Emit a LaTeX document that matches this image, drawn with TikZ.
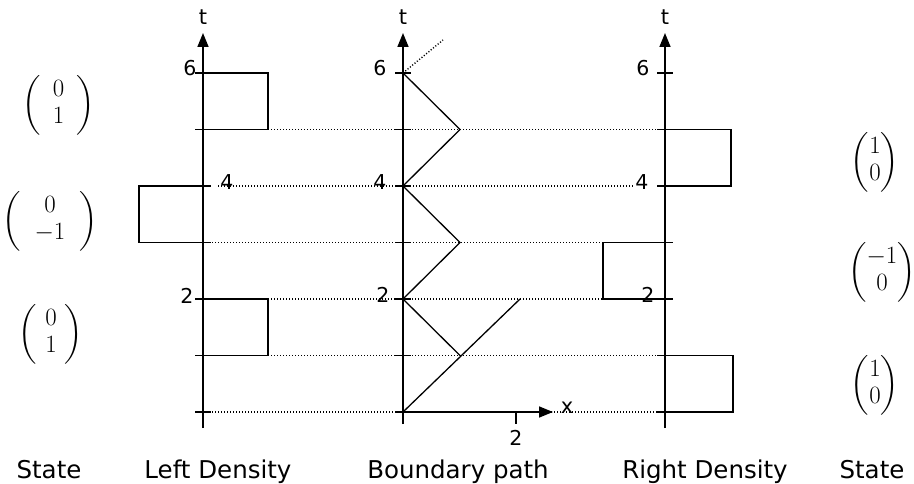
\documentclass[tikz,border=0pt]{standalone}
\usepackage{amsmath}
\usepackage{fontspec}
\setsansfont{DejaVu Sans}
\usetikzlibrary{arrows.meta}
\begin{document}
\begin{tikzpicture}[x=1pt,y=-1pt,
  axis/.style={line width=1.6pt,-{Triangle[width=11pt,length=14pt]}},
  box/.style={line width=1.3pt},
  tickmark/.style={line width=1.4pt},
  dots/.style={line width=1.4pt,dash pattern=on 1.1pt off 1.9pt},
  lab/.style={font=\sffamily\fontsize{20.5}{20.5}\selectfont,inner sep=0pt},
  tlab/.style={font=\sffamily\fontsize{21}{21}\selectfont,inner sep=0pt},
  ttl/.style={font=\sffamily\fontsize{24.5}{24.5}\selectfont,inner sep=0pt,anchor=base},
  vec/.style={font=\fontsize{27}{30}\selectfont\renewcommand{\arraystretch}{0.9},inner sep=0pt}]
\useasboundingbox (0,0) rectangle (914,484);
% level coordinates
\foreach \k in {0,...,6}{
  \coordinate (L\k) at (203,{412-56.5*\k});
  \coordinate (M\k) at (403,{412-56.5*\k});
  \coordinate (R\k) at (665,{412-56.5*\k});
}
\coordinate (Lbot) at (203,428); \coordinate (Ltop) at (203,33);
\coordinate (Mbot) at (403,424); \coordinate (Mtop) at (403,33);
\coordinate (Rbot) at (665,428); \coordinate (Rtop) at (665,33);
\coordinate (Xend) at (553,412);
% dotted guide lines
\draw[dots] (268,129.5) -- (R5);
\draw[dots] (218,186) -- (634,186);
\draw[dots] (L3) -- (603,242.5);
\draw[dots] (268,299) -- (603,299);
\draw[dots] (268,355.5) -- (R1);
\draw[dots] (212,412) -- (R0);
% axes
\draw[axis] (Lbot) -- (Ltop);
\draw[axis] (Mbot) -- (Mtop);
\draw[axis] (Rbot) -- (Rtop);
\draw[axis] (M0) -- (Xend);
\node[tlab] (Lt) at (203,17) {t};
\node[tlab] (Mt) at (403,17) {t};
\node[tlab] (Rt) at (665,17) {t};
\node[tlab] (Xl) at (567,408) {x};
% ticks
\foreach \k in {0,...,6}{
  \draw[tickmark] ([xshift=-8pt]L\k) -- ([xshift=8pt]L\k);
  \draw[tickmark] ([xshift=-8pt]M\k) -- ([xshift=8pt]M\k);
  \draw[tickmark] ([xshift=-8pt]R\k) -- ([xshift=8pt]R\k);
}
\coordinate (X2) at (516,412);
\draw[tickmark] (X2) -- ++(0,12);
\node[lab] (X2l) at (516,438) {2};
% tick labels
\node[lab] (L6l) at (190,68) {6};
\node[lab] (L4l) at (227,182) {4};
\node[lab] (L2l) at (187,296) {2};
\node[lab] (M6l) at (380,68) {6};
\node[lab] (M4l) at (380,182) {4};
\node[lab] (M2l) at (383,295) {2};
\node[lab] (R6l) at (643,68) {6};
\node[lab] (R4l) at (642,182) {4};
\node[lab] (R2l) at (648,295) {2};
% density boxes
\draw[box] (L6) -- ++(65,0) |- (L5);
\draw[box] (L4) -- ++(-64,0) |- (L3);
\draw[box] (L2) -- ++(65,0) |- (L1);
\draw[box] (R5) -- ++(66,0) |- (R4);
\draw[box] (R3) -- ++(-62,0) |- (R2);
\draw[box] (R1) -- ++(68,0) |- (R0);
% boundary path
\coordinate (A5) at (460,129.5);
\coordinate (A3) at (460,242.5);
\coordinate (A1) at (460,355.5);
\coordinate (Pend) at (520,299);
\coordinate (Pext) at (443,40);
\draw[box] (M6) -- (A5) -- (M4) -- (A3) -- (M2) -- (A1);
\draw[box] (M0) -- (Pend);
\draw[dots] (M6) -- (Pext);
% state vectors
\node[vec] (S1) at (58.5,105) {$\left(\hspace{12pt}\begin{matrix}0\\1\end{matrix}\hspace{12pt}\right)$};
\node[vec] (S2) at (50,221) {$\left(\hspace{14pt}\begin{matrix}0\\-1\end{matrix}\hspace{14pt}\right)$};
\node[vec] (S3) at (51,334) {$\left(\hspace{8pt}\begin{matrix}0\\1\end{matrix}\hspace{8pt}\right)$};
\node[vec] (T1) at (875,162) {$\begin{pmatrix}1\\0\end{pmatrix}$};
\node[vec] (T2) at (882,272) {$\begin{pmatrix}-1\\0\end{pmatrix}$};
\node[vec] (T3) at (875,385) {$\begin{pmatrix}1\\0\end{pmatrix}$};
% titles
\node[ttl] (C1) at (49,478) {State};
\node[ttl] (C2) at (218,478) {Left Density};
\node[ttl] (C3) at (458,478) {Boundary path};
\node[ttl] (C4) at (705,478) {Right Density};
\node[ttl] (C5) at (872,478) {State};
\end{tikzpicture}
\end{document}
